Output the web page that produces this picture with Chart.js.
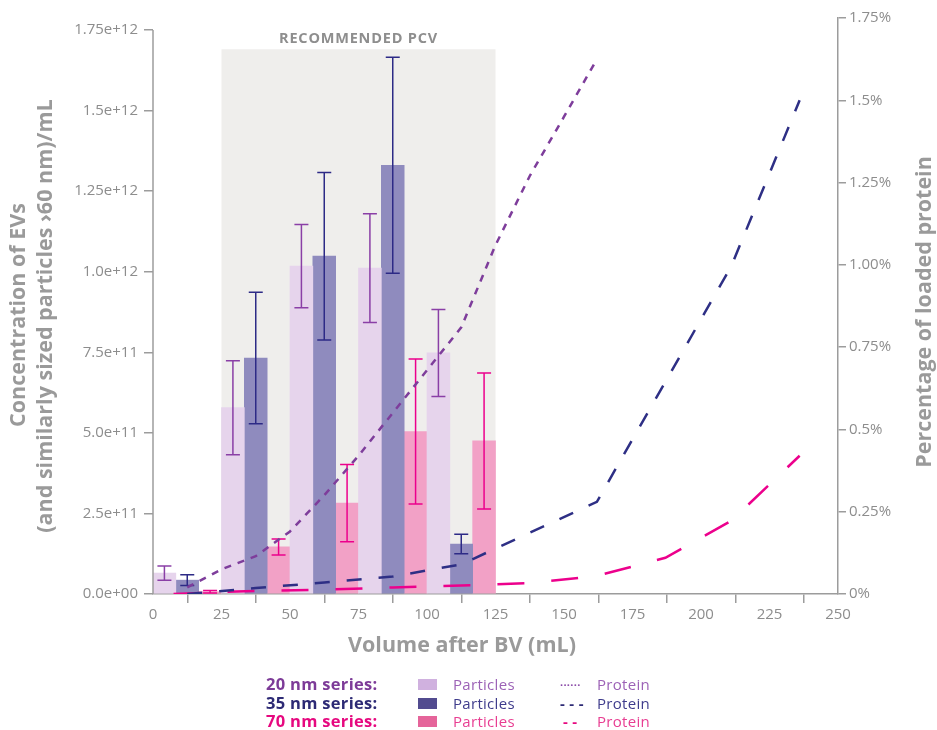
<!DOCTYPE html>
<html>
<head>
<meta charset="utf-8">
<title>Recommended PCV</title>
<script src="https://cdn.jsdelivr.net/npm/chart.js@4.4.1/dist/chart.umd.min.js"></script>
<style>
  body { margin: 0; background: #fff; font-family: "Open Sans", sans-serif; }
  #wrap { position: relative; width: 937px; height: 730px; }
  #pcvChart { position: absolute; left: 0; top: 0; }
  .lg { position: absolute; white-space: nowrap; line-height: 18px; }
  .series { font-weight: bold; font-size: 16.5px; letter-spacing: 0.3px; }
  .item { font-size: 15px; letter-spacing: 0.3px; }
  .swatch { position: absolute; width: 19px; height: 11px; }
</style>
</head>
<body>
<div id="wrap">
  <canvas id="pcvChart" width="937" height="730"></canvas>

  <!-- Legend -->
  <div class="lg series" style="left:266px; top:675px; color:#7D3B98;">20 nm series:</div>
  <div class="lg series" style="left:266px; top:694px; color:#2D2A75;">35 nm series:</div>
  <div class="lg series" style="left:266px; top:712px; color:#E6087F;">70 nm series:</div>

  <div class="swatch" style="left:418px; top:679px; background:#D0B1DF;"></div>
  <div class="swatch" style="left:418px; top:698px; background:#524B8F;"></div>
  <div class="swatch" style="left:418px; top:716px; background:#E5649A;"></div>

  <div class="lg item" style="left:453px; top:675px; color:#9C62B6;">Particles</div>
  <div class="lg item" style="left:453px; top:694px; color:#3F3C8C;">Particles</div>
  <div class="lg item" style="left:453px; top:712px; color:#E83E92;">Particles</div>

  <div class="lg item" style="left:560px; top:673px; color:#8A4AA8; font-weight:bold; font-size:11px;">......</div>
  <div class="lg item" style="left:560px; top:694px; color:#2D2A75; font-weight:bold;">- - -</div>
  <div class="lg item" style="left:563px; top:712px; color:#E6087F; font-weight:bold;">- -</div>

  <div class="lg item" style="left:597px; top:675px; color:#9C62B6;">Protein</div>
  <div class="lg item" style="left:597px; top:694px; color:#3F3C8C;">Protein</div>
  <div class="lg item" style="left:597px; top:712px; color:#E83E92;">Protein</div>
</div>

<script>
// Fraction centres (mL after BV) for the particle bars
const fractionVolumes = [12.5, 37.5, 62.5, 87.5, 112.5];

// Particle concentrations (EVs/mL) and their error bars
const particles20 = [6.5e10, 5.78e11, 1.017e12, 1.011e12, 7.48e11];
const errors20 = [2.2e10, 1.46e11, 1.29e11, 1.69e11, 1.35e11];
const particles35 = [4.3e10, 7.32e11, 1.048e12, 1.330e12, 1.55e11];
const errors35 = [1.7e10, 2.04e11, 2.6e11, 3.35e11, 3.0e10];
const particles70 = [7e9, 1.46e11, 2.82e11, 5.04e11, 4.75e11];
const errors70 = [4e9, 2.5e10, 1.2e11, 2.25e11, 2.11e11];

// Protein (% of loaded) curves
const protein20X = [12.5, 25, 37.5, 50, 62.5, 75, 87.5, 100, 112.5, 125, 137.5, 150, 161];
const protein20 = [0.02, 0.075, 0.115, 0.19, 0.30, 0.42, 0.55, 0.68, 0.81, 1.06, 1.27, 1.45, 1.61];
const protein35X = [12.5, 37.5, 62.5, 87.5, 112.5, 162, 211, 236];
const protein35 = [0, 0.018, 0.035, 0.053, 0.09, 0.28, 0.995, 1.50];
const protein70X = [7.5, 25, 37.5, 62.5, 87.5, 112.5, 137.5, 162, 187, 211, 236];
const protein70 = [0, 0.006, 0.009, 0.013, 0.02, 0.026, 0.033, 0.055, 0.11, 0.222, 0.42];

// Axes
const xTickValues = [0, 25, 50, 75, 100, 125, 150, 175, 200, 225, 250];
const leftTickValues = [0, 2.5e11, 5e11, 7.5e11, 1e12, 1.25e12, 1.5e12, 1.75e12];
const leftTickLabels = ['0.0e+00', '2.5e+11', '5.0e+11', '7.5e+11', '1.0e+12', '1.25e+12', '1.5e+12', '1.75e+12'];
const rightTickValues = [0, 0.25, 0.5, 0.75, 1, 1.25, 1.5, 1.75];
const rightTickLabels = ['0%', '0.25%', '0.5%', '0.75%', '1.00%', '1.25%', '1.5%', '1.75%'];
const leftAxisMax = 1.787e12; // right axis tops out a bit higher than the left one
const pcvRange = [25, 125];
const pcvTop = 1.69e12;

const axisColor = '#9c9c9c';
const tickColor = '#8d8d8d';
const titleColor = '#9a9a9a';
const fontFamily = '"Open Sans", sans-serif';

function toPoints(xs, ys) {
    return xs.map((x, i) => ({ x: x, y: ys[i] }));
}

// Grey "recommended PCV" band behind the bars
const pcvBand = {
    id: 'pcvBand',
    beforeDatasetsDraw(chart) {
        const { ctx, scales: { x, y } } = chart;
        const left = x.getPixelForValue(pcvRange[0]);
        const right = x.getPixelForValue(pcvRange[1]);
        const top = y.getPixelForValue(pcvTop);
        ctx.save();
        ctx.fillStyle = '#EFEEEC';
        ctx.fillRect(left, top, right - left, y.bottom - top - 1);
        ctx.fillStyle = '#8e8e8e';
        ctx.font = 'bold 14.5px ' + fontFamily;
        ctx.letterSpacing = '0.8px';
        ctx.textAlign = 'center';
        ctx.textBaseline = 'bottom';
        ctx.fillText('RECOMMENDED PCV', (left + right) / 2, top - 3);
        ctx.restore();
    }
};

// Error bars on the particle datasets
const errorBars = {
    id: 'errorBars',
    afterDatasetDraw(chart, args) {
        const ds = chart.data.datasets[args.index];
        if (!ds.errors) return;
        const { ctx, scales: { y } } = chart;
        ctx.save();
        ctx.strokeStyle = ds.errorColor;
        ctx.lineWidth = 1.5;
        args.meta.data.forEach((bar, i) => {
            const v = ds.data[i].y;
            const e = ds.errors[i];
            const yTop = y.getPixelForValue(v + e);
            const yBot = y.getPixelForValue(v - e);
            const cx = bar.x;
            ctx.beginPath();
            ctx.moveTo(cx, yTop);
            ctx.lineTo(cx, yBot);
            ctx.moveTo(cx - 7, yTop);
            ctx.lineTo(cx + 7, yTop);
            ctx.moveTo(cx - 7, yBot);
            ctx.lineTo(cx + 7, yBot);
            ctx.stroke();
        });
        ctx.restore();
    }
};

// Left axis line (stops at 1.75e12) and the axis titles
const axisDecor = {
    id: 'axisDecor',
    afterDraw(chart) {
        const { ctx, scales: { x, y } } = chart;
        ctx.save();
        ctx.strokeStyle = axisColor;
        ctx.lineWidth = 1.5;
        ctx.beginPath();
        ctx.moveTo(y.right, y.getPixelForValue(leftTickValues[leftTickValues.length - 1]));
        ctx.lineTo(y.right, y.bottom);
        ctx.stroke();

        ctx.fillStyle = titleColor;
        ctx.font = 'bold 21.5px ' + fontFamily;
        ctx.textAlign = 'center';
        ctx.textBaseline = 'middle';
        ctx.fillText('Volume after BV (mL)', 462, 646);

        const vText = (text, px, py) => {
            ctx.save();
            ctx.translate(px, py);
            ctx.rotate(-Math.PI / 2);
            ctx.fillText(text, 0, 0);
            ctx.restore();
        };
        vText('Concentration of EVs', 19, 315);
        vText('(and similarly sized particles \u203A60 nm)/mL', 46, 316);
        vText('Percentage of loaded protein', 925, 312);
        ctx.restore();
    }
};

const ctx = document.getElementById('pcvChart').getContext('2d');

const pcvChart = new Chart(ctx, {
    type: 'bar',
    data: {
        datasets: [
            {
                type: 'line', label: '20 nm Protein', yAxisID: 'y2', order: 0,
                data: toPoints(protein20X, protein20),
                borderColor: '#7E3D9B', borderWidth: 2.5, borderDash: [7, 7],
                pointRadius: 0, tension: 0, fill: false
            },
            {
                type: 'line', label: '35 nm Protein', yAxisID: 'y2', order: 0,
                data: toPoints(protein35X, protein35),
                borderColor: '#2E2F85', borderWidth: 2.5, borderDash: [15, 17],
                pointRadius: 0, tension: 0, fill: false
            },
            {
                type: 'line', label: '70 nm Protein', yAxisID: 'y2', order: 0,
                data: toPoints(protein70X, protein70),
                borderColor: '#EC008C', borderWidth: 2.5, borderDash: [27, 27],
                pointRadius: 0, tension: 0, fill: false
            },
            {
                label: '20 nm Particles', yAxisID: 'y', order: 1,
                data: toPoints(fractionVolumes, particles20),
                backgroundColor: '#E6D4EC',
                errors: errors20, errorColor: '#8A3FA6'
            },
            {
                label: '35 nm Particles', yAxisID: 'y', order: 1,
                data: toPoints(fractionVolumes, particles35),
                backgroundColor: '#8F8BBE',
                errors: errors35, errorColor: '#2D2A86'
            },
            {
                label: '70 nm Particles', yAxisID: 'y', order: 1,
                data: toPoints(fractionVolumes, particles70),
                backgroundColor: '#F2A1C6',
                errors: errors70, errorColor: '#EC008C'
            }
        ]
    },
    options: {
        responsive: false,
        animation: false,
        layout: { padding: { top: 18, left: 0, right: 0, bottom: 70 } },
        datasets: {
            bar: { categoryPercentage: 1, barPercentage: 1, grouped: true }
        },
        plugins: {
            legend: { display: false },
            tooltip: { enabled: false }
        },
        scales: {
            x: {
                type: 'linear',
                min: 0, max: 250,
                offset: false,
                afterBuildTicks: (scale) => { scale.ticks = xTickValues.map(v => ({ value: v })); },
                afterFit: (scale) => { scale.height = 66; },
                grid: { drawOnChartArea: false, drawTicks: true, tickLength: 9, tickColor: axisColor, lineWidth: 1.5 },
                border: { color: axisColor, width: 1.5 },
                ticks: { color: tickColor, font: { family: fontFamily, size: 15 }, padding: 3, maxRotation: 0 }
            },
            y: {
                position: 'left',
                min: 0, max: leftAxisMax,
                afterBuildTicks: (scale) => { scale.ticks = leftTickValues.map(v => ({ value: v })); },
                afterFit: (scale) => { scale.width = 153; },
                grid: { drawOnChartArea: false, drawTicks: true, tickLength: 9, tickColor: axisColor, lineWidth: 1.5 },
                border: { display: false },
                ticks: {
                    color: tickColor, font: { family: fontFamily, size: 15 }, padding: 6,
                    callback: (v, i) => leftTickLabels[i]
                }
            },
            y2: {
                position: 'right',
                min: 0, max: 1.75,
                afterBuildTicks: (scale) => { scale.ticks = rightTickValues.map(v => ({ value: v })); },
                afterFit: (scale) => { scale.width = 99; },
                grid: { drawOnChartArea: false, drawTicks: true, tickLength: 8, tickColor: axisColor, lineWidth: 1.5 },
                border: { color: axisColor, width: 1.5 },
                ticks: {
                    color: tickColor, font: { family: fontFamily, size: 15 }, padding: 3,
                    callback: (v, i) => rightTickLabels[i]
                }
            }
        }
    },
    plugins: [pcvBand, errorBars, axisDecor]
});
</script>
</body>
</html>
